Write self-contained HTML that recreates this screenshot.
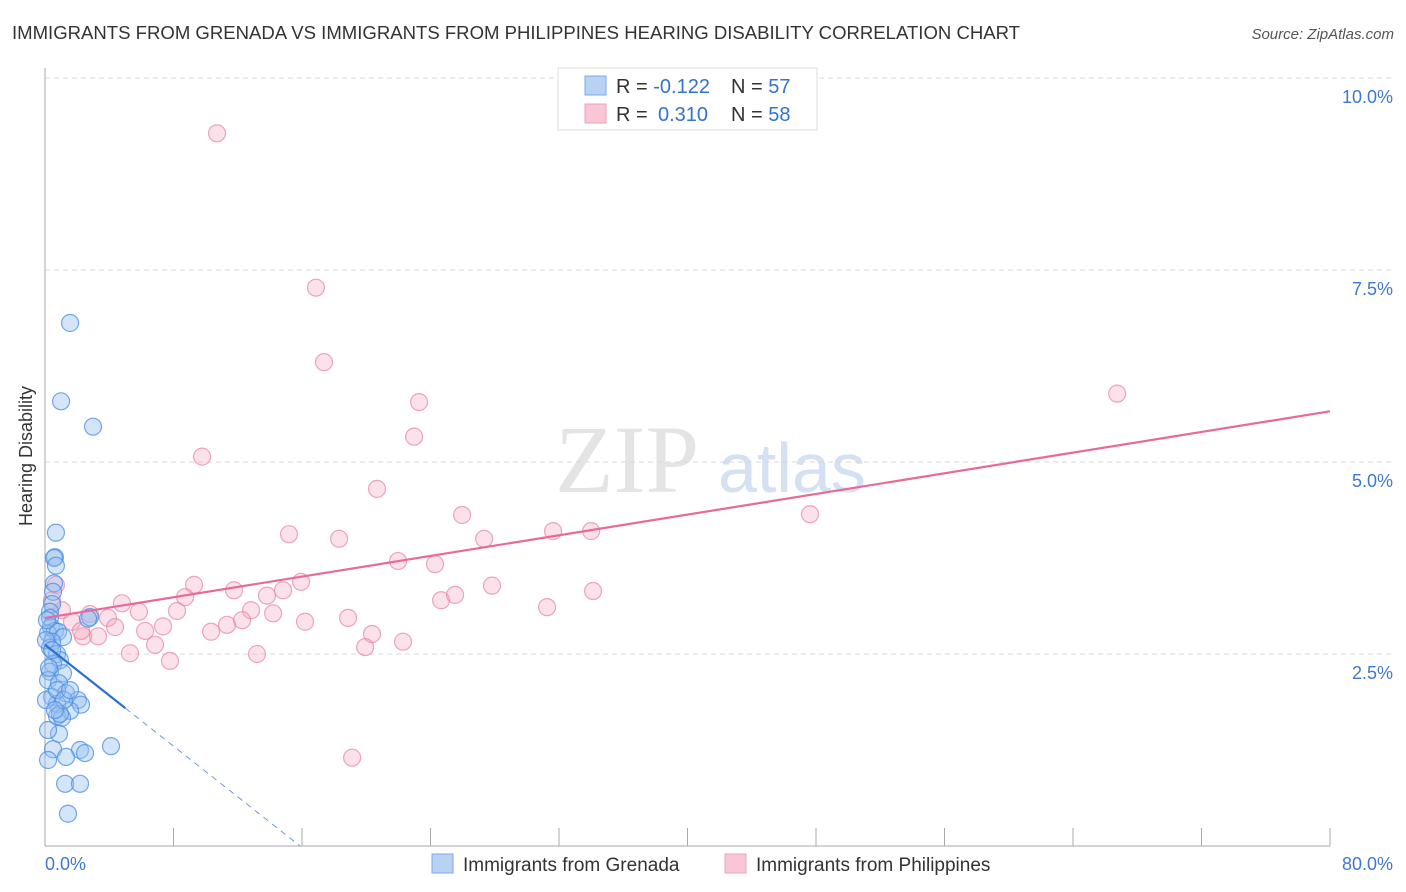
<!DOCTYPE html>
<html><head><meta charset="utf-8"><style>
body{margin:0;background:#fff;font-family:"Liberation Sans",sans-serif;}
svg{display:block}
</style></head><body>
<svg id="chart" width="1406" height="892">
<text x="12" y="39" font-size="18.5" fill="#333" textLength="1008" lengthAdjust="spacingAndGlyphs">IMMIGRANTS FROM GRENADA VS IMMIGRANTS FROM PHILIPPINES HEARING DISABILITY CORRELATION CHART</text>
<text x="1394" y="39" font-size="15" fill="#555" font-style="italic" text-anchor="end">Source: ZipAtlas.com</text>
<text x="32" y="456" font-size="18" fill="#333" text-anchor="middle" transform="rotate(-90 32 456)">Hearing Disability</text>
<text x="555" y="492" font-size="96" fill="#e4e4e4" font-family="Liberation Serif,serif">ZIP</text>
<text x="718" y="492" font-size="70" fill="#d3e1f3">atlas</text>
<g id="grid"></g><g id="axes"></g><g id="pts"></g><g id="lines"></g>
<g>
<rect x="558" y="68" width="259" height="62" fill="#fff" stroke="#ddd"/>
<rect x="585" y="76" width="21" height="19" fill="#b8d2f4" stroke="#7aaae6"/>
<rect x="585" y="104" width="21" height="19" fill="#f8c6d4" stroke="#eea0b8"/>
<text x="616" y="93" font-size="20" fill="#333">R = <tspan fill="#3572cc">-0.122</tspan><tspan x="731">N = </tspan><tspan fill="#3572cc">57</tspan></text>
<text x="616" y="121" font-size="20" fill="#333">R = <tspan x="658" fill="#3572cc">0.310</tspan><tspan x="731">N = </tspan><tspan fill="#3572cc">58</tspan></text>
</g>
<g>
<rect x="432" y="854" width="21" height="19" fill="#b8d2f4" stroke="#7aaae6"/>
<text x="463" y="871" font-size="19" fill="#333">Immigrants from Grenada</text>
<rect x="725" y="854" width="21" height="19" fill="#f8c6d4" stroke="#eea0b8"/>
<text x="756" y="871" font-size="19" fill="#333">Immigrants from Philippines</text>
</g>
</svg>
<script>
const yTicks=[2.5,5,7.5,10];
const yTickLabels=["2.5%","5.0%","7.5%","10.0%"];
const xTickLabels=["0.0%","80.0%"];
const blueX=[1.56,1.00,2.99,0.68,0.62,0.56,0.68,0.56,0.50,0.44,0.31,0.31,2.80,2.68,0.37,0.62,0.19,0.81,1.12,0.44,0.31,0.75,0.93,0.50,0.31,1.12,0.19,0.87,1.31,0.44,2.05,2.24,0.75,1.56,0.75,1.06,0.93,0.87,0.50,2.18,2.49,4.11,1.31,1.25,2.18,1.43,0.12,0.06,0.25,0.06,0.75,1.18,0.62,0.19,1.56,0.19,0.44];
const blueY=[6.81,5.79,5.46,4.08,3.76,3.75,3.65,3.42,3.31,3.15,3.05,2.97,2.98,2.96,2.85,2.80,2.77,2.79,2.72,2.66,2.58,2.50,2.42,2.37,2.27,2.25,2.16,2.12,1.99,1.94,1.90,1.84,1.85,1.76,1.69,1.67,1.72,1.46,1.26,1.25,1.21,1.30,1.16,0.81,0.81,0.42,2.94,2.68,2.32,1.90,2.03,1.90,1.77,1.12,2.03,1.51,2.55];
const pinkX=[10.71,16.87,17.37,66.75,23.29,22.98,9.78,20.67,15.19,18.31,25.97,27.34,31.63,34.00,47.63,21.98,24.28,9.28,11.77,8.72,15.94,14.82,13.82,27.83,34.12,24.66,25.53,31.26,4.79,5.85,8.22,12.83,14.20,3.92,2.80,1.06,1.68,4.36,7.35,6.23,10.34,11.33,12.27,16.19,18.87,20.36,2.37,3.30,2.24,6.85,19.93,22.29,5.29,7.78,13.20,19.12,0.68,0.44];
const pinkY=[9.28,7.27,6.30,5.89,5.78,5.33,5.07,4.65,4.06,4.00,4.31,4.00,4.10,4.10,4.32,3.71,3.67,3.40,3.33,3.24,3.44,3.33,3.26,3.39,3.32,3.20,3.27,3.11,3.16,3.05,3.06,3.07,3.03,2.97,3.02,3.07,2.92,2.85,2.86,2.80,2.79,2.88,2.94,2.92,2.97,2.76,2.73,2.73,2.80,2.62,2.59,2.66,2.51,2.41,2.50,1.15,3.40,3.20];
const pinkTrend=[2.97,5.66];
const blueTrend=[2.62,-0.165];
const NS="http://www.w3.org/2000/svg";
const X=v=>45+v*1285/80, Y=v=>846-v*76.8;
function mk(t,a,p){const e=document.createElementNS(NS,t);for(const k in a)e.setAttribute(k,a[k]);p.appendChild(e);return e;}
const grid=document.getElementById('grid'),axes=document.getElementById('axes');
yTicks.forEach((t,i)=>{
 const l=mk('line',{x1:45,x2:1395,y1:Y(t),y2:Y(t),stroke:'#d8d8d8','stroke-dasharray':'5,4'},grid);
 
 
 const tx=mk('text',{x:1393,y:Y(t)+25,'font-size':18,fill:'#3f78cf','text-anchor':'end'},grid);tx.textContent=yTickLabels[i];
 
 
});
mk('line',{x1:45,x2:45,y1:68,y2:846,stroke:'#aaa'},axes);
mk('line',{x1:45,x2:1330,y1:846,y2:846,stroke:'#aaa'},axes);
for(let k=1;k<=10;k++){mk('line',{x1:X(8*k),x2:X(8*k),y1:828,y2:846,stroke:'#aaa'},axes);}
let t0=mk('text',{x:45,y:870,'font-size':18,fill:'#3f78cf'},axes);t0.textContent=xTickLabels[0];


let t1=mk('text',{x:1393,y:870,'font-size':18,fill:'#3f78cf','text-anchor':'end'},axes);t1.textContent=xTickLabels[1];


const pts=document.getElementById('pts');
pinkX.forEach((x,i)=>{const c=mk('circle',{cx:X(x),cy:Y(pinkY[i]),r:8.5,fill:'rgba(244,170,192,0.35)',stroke:'rgba(232,130,160,0.7)','stroke-width':1.2},pts);
 
 });
blueX.forEach((x,i)=>{const c=mk('circle',{cx:X(x),cy:Y(blueY[i]),r:8.5,fill:'rgba(150,190,240,0.4)',stroke:'rgba(70,140,225,0.75)','stroke-width':1.2},pts);
 
 });
const lines=document.getElementById('lines');
const pl=mk('line',{x1:X(0),y1:Y(pinkTrend[0]),x2:X(80),y2:Y(pinkTrend[1]),stroke:'#e8699a','stroke-width':2.2},lines);


const bEnd=5, bZero=-blueTrend[0]/blueTrend[1];
const bl=mk('line',{x1:X(0),y1:Y(blueTrend[0]),x2:X(bEnd),y2:Y(blueTrend[0]+blueTrend[1]*bEnd),stroke:'#2a6fd6','stroke-width':2.2},lines);


const bd=mk('line',{x1:X(bEnd),y1:Y(blueTrend[0]+blueTrend[1]*bEnd),x2:X(bZero),y2:Y(0),stroke:'#6a98dd','stroke-width':1,'stroke-dasharray':'6,5'},lines);


</script>
</body></html>
